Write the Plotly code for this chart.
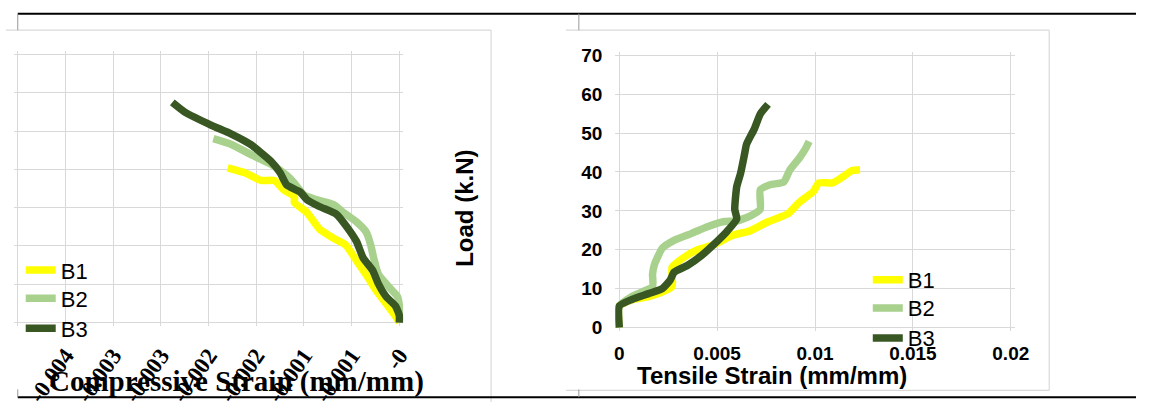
import plotly.graph_objects as go

W, H = 1151, 409

series_names = ["B1", "B2", "B3"]
series_colors = ["#FFFF00", "#A9D18E", "#385723"]

# compressive strain (mm/mm) against load (kN)
b1_comp_strain = [0, -0.00005, -0.00014, -0.00025, -0.00035, -0.00045, -0.00056, -0.00069,
                  -0.00084, -0.00097, -0.0011, -0.0011, -0.00121, -0.00131, -0.00145,
                  -0.00162, -0.0018]
b1_comp_load = [0, 2, 5, 8.6, 12.6, 16.2, 20.2, 22.0, 24.5, 28.8, 31.3, 32.9, 34.6, 37.1,
                37.1, 39.1, 40.4]
b2_comp_strain = [0, 0, -0.00002, -0.00011, -0.00022, -0.00027, -0.0003, -0.00035, -0.00045,
                  -0.00059, -0.00069, -0.00087, -0.001, -0.0011, -0.00118, -0.00135,
                  -0.00156, -0.00176, -0.00195]
b2_comp_load = [0, 4.3, 6.8, 9.3, 12.6, 16.9, 20.2, 23.7, 26.3, 28.8, 30.8, 32.1, 33.3, 36.4,
                38.4, 41.4, 43.9, 46.5, 48.0]
b3_comp_strain = [0, 0, -0.00004, -0.00014, -0.00022, -0.00028, -0.00038, -0.00045, -0.00056,
                  -0.00066, -0.00084, -0.00097, -0.00104, -0.00118, -0.00125, -0.00135,
                  -0.00156, -0.00176, -0.00197, -0.00224, -0.00238]
b3_comp_load = [0, 1.8, 4.3, 6.8, 10.1, 13.6, 16.9, 21.2, 25.3, 28.3, 30.3, 32.1, 34.1, 35.9,
                39.1, 42.2, 46.5, 49.2, 51.5, 54.8, 57.5]

# tensile strain (mm/mm) against load (kN)
b1_tens_strain = [0, 0, 0.0007, 0.0014, 0.002, 0.0027, 0.0027, 0.0033, 0.004, 0.0048, 0.0058,
                  0.0067, 0.0076, 0.0086, 0.0092, 0.0099, 0.0102, 0.0109, 0.0114, 0.0119,
                  0.0123]
b1_tens_load = [0, 5.5, 7.2, 7.8, 8.7, 10.5, 15.5, 18.0, 20.0, 21.2, 23.7, 24.9, 27.2, 29.2,
                32.2, 34.9, 37.2, 37.2, 38.7, 40.4, 40.6]
b2_tens_strain = [0, 0, 0.00065, 0.0017, 0.0017, 0.0018, 0.0022, 0.0028, 0.0037, 0.0045,
                  0.0053, 0.006, 0.0067, 0.0072, 0.0072, 0.0077, 0.0084, 0.0087, 0.0092,
                  0.0095, 0.0097]
b2_tens_load = [0, 5.5, 8.0, 10.5, 13.7, 16.2, 20.4, 22.4, 24.2, 25.9, 27.2, 27.4, 28.7, 30.4,
                35.4, 36.7, 37.4, 40.4, 43.6, 45.9, 47.9]
b3_tens_strain = [0, 0, 0.00065, 0.0015, 0.0022, 0.0026, 0.0028, 0.0035, 0.0042, 0.0048,
                  0.0055, 0.006, 0.0059, 0.006, 0.0062, 0.0064, 0.0065, 0.0069, 0.0072, 0.0076]
b3_tens_load = [0, 5.5, 7.2, 8.7, 10.0, 12.2, 14.2, 16.0, 18.5, 21.2, 24.7, 27.9, 30.4, 36.2,
                39.7, 44.6, 47.1, 51.1, 54.9, 57.4]

comp_tick_vals = [-0.004, -0.0035, -0.003, -0.0025, -0.002, -0.0015, -0.001, -0.0005, 0]
comp_tick_text = ["-0.004", "-0.004", "-0.003", "-0.003", "-0.002", "-0.002", "-0.001",
                  "-0.001", "-0"]
tens_tick_vals = [0, 0.005, 0.01, 0.015, 0.02]
tens_tick_text = ["0", "0.005", "0.01", "0.015", "0.02"]
load_tick_vals = [0, 10, 20, 30, 40, 50, 60, 70]

comp_series = [(b1_comp_strain, b1_comp_load), (b2_comp_strain, b2_comp_load),
               (b3_comp_strain, b3_comp_load)]
tens_series = [(b1_tens_strain, b1_tens_load), (b2_tens_strain, b2_tens_load),
               (b3_tens_strain, b3_tens_load)]


def px(x):
    return x / W


def py(y):
    return 1 - y / H


GRID = "#D9D9D9"
SANS = "Liberation Sans"
SERIF = "Liberation Serif"
LINE_W = 7.5

# one single-entry legend per series so every key row sits at its own height
comp_legend_rows = [273, 302, 333]
tens_legend_rows = [283, 312, 343]
legend_ids = ["legend", "legend2", "legend3", "legend4", "legend5", "legend6"]

fig = go.Figure()
for i, ((xs, ys), name, col) in enumerate(zip(comp_series, series_names, series_colors)):
    fig.add_trace(go.Scatter(x=xs, y=ys, name=name, mode="lines", xaxis="x", yaxis="y",
                             legend=legend_ids[i],
                             line=dict(color=col, width=LINE_W, shape="spline",
                                       smoothing=0.5)))
for i, ((xs, ys), name, col) in enumerate(zip(tens_series, series_names, series_colors)):
    fig.add_trace(go.Scatter(x=xs, y=ys, name=name, mode="lines", xaxis="x2", yaxis="y2",
                             legend=legend_ids[3 + i],
                             line=dict(color=col, width=LINE_W, shape="spline",
                                       smoothing=0.5)))

common_axis = dict(showgrid=True, gridcolor=GRID, gridwidth=1.3, zeroline=False,
                   showline=False, ticks="", fixedrange=True)

fig.update_layout(
    width=W, height=H, autosize=False,
    margin=dict(l=0, r=0, t=0, b=0, pad=0),
    paper_bgcolor="white", plot_bgcolor="white",
    font=dict(family=SANS, color="black"),
    showlegend=True,
    xaxis=dict(domain=[px(13), px(408)], range=[-0.0040413, 0.0000413], anchor="y",
               tickmode="array", tickvals=comp_tick_vals, ticktext=comp_tick_text,
               tickangle=-55, ticklabelstandoff=10,
               tickfont=dict(family=SERIF, size=23, color="black", weight="bold"),
               **common_axis),
    yaxis=dict(domain=[py(331), py(46)], range=[-1.01, 71.01], anchor="x",
               tickmode="array", tickvals=load_tick_vals, showticklabels=False,
               **common_axis),
    xaxis2=dict(domain=[px(623), px(1028)], range=[-0.0002, 0.0202], anchor="y2",
                tickmode="array", tickvals=tens_tick_vals, ticktext=tens_tick_text,
                ticklabelstandoff=9,
                tickfont=dict(family=SANS, size=19, color="black", weight="bold"),
                **common_axis),
    yaxis2=dict(domain=[py(336), py(47)], range=[-1, 71], anchor="x2",
                tickmode="array", tickvals=load_tick_vals, ticklabelstandoff=12,
                tickfont=dict(family=SANS, size=19, color="black", weight="bold"),
                **common_axis),
)

legend_style = dict(xanchor="left", yanchor="middle", bgcolor="rgba(0,0,0,0)",
                    font=dict(family=SANS, size=22, color="black"), itemwidth=30)
for i, row in enumerate(comp_legend_rows):
    fig.update_layout({legend_ids[i]: dict(x=px(20), y=py(row), **legend_style)})
for i, row in enumerate(tens_legend_rows):
    fig.update_layout({legend_ids[3 + i]: dict(x=px(879), y=py(row), **legend_style)})

# axis titles
fig.add_annotation(text="Compressive Strain (mm/mm)", x=px(239), y=py(388),
                   xref="paper", yref="paper", showarrow=False,
                   xanchor="center", yanchor="middle",
                   font=dict(family=SERIF, size=29, color="black", weight="bold"))
fig.add_annotation(text="Tensile Strain (mm/mm)", x=px(782), y=py(382),
                   xref="paper", yref="paper", showarrow=False,
                   xanchor="center", yanchor="middle",
                   font=dict(family=SANS, size=24, color="black", weight="bold"))
fig.add_annotation(text="Load (k.N)", x=px(470), y=py(209), textangle=-90,
                   xref="paper", yref="paper", showarrow=False,
                   xanchor="center", yanchor="middle",
                   font=dict(family=SANS, size=24, color="black", weight="bold"))


def seg(x0, y0, x1, y1, color, width):
    fig.add_shape(type="line", xref="paper", yref="paper",
                  x0=px(x0), y0=py(y0), x1=px(x1), y1=py(y1),
                  line=dict(color=color, width=width), layer="above")


# chart frames
seg(5, 25, 497, 25, GRID, 1.2)
seg(497, 25, 497, 409, GRID, 1.2)
seg(573, 25, 1063, 25, GRID, 1.2)
seg(1063, 25, 1063, 397, GRID, 1.2)
seg(573, 397, 1063, 397, GRID, 1.2)

# table rules
seg(17, 8, 1151, 8, "black", 2)
seg(17, 404, 1151, 404, "black", 2)
for xv in (17, 586):
    seg(xv, 8, xv, 25, "#999999", 1)
    seg(xv, 396, xv, 404, "#999999", 1)

fig.write_html("out.html")
